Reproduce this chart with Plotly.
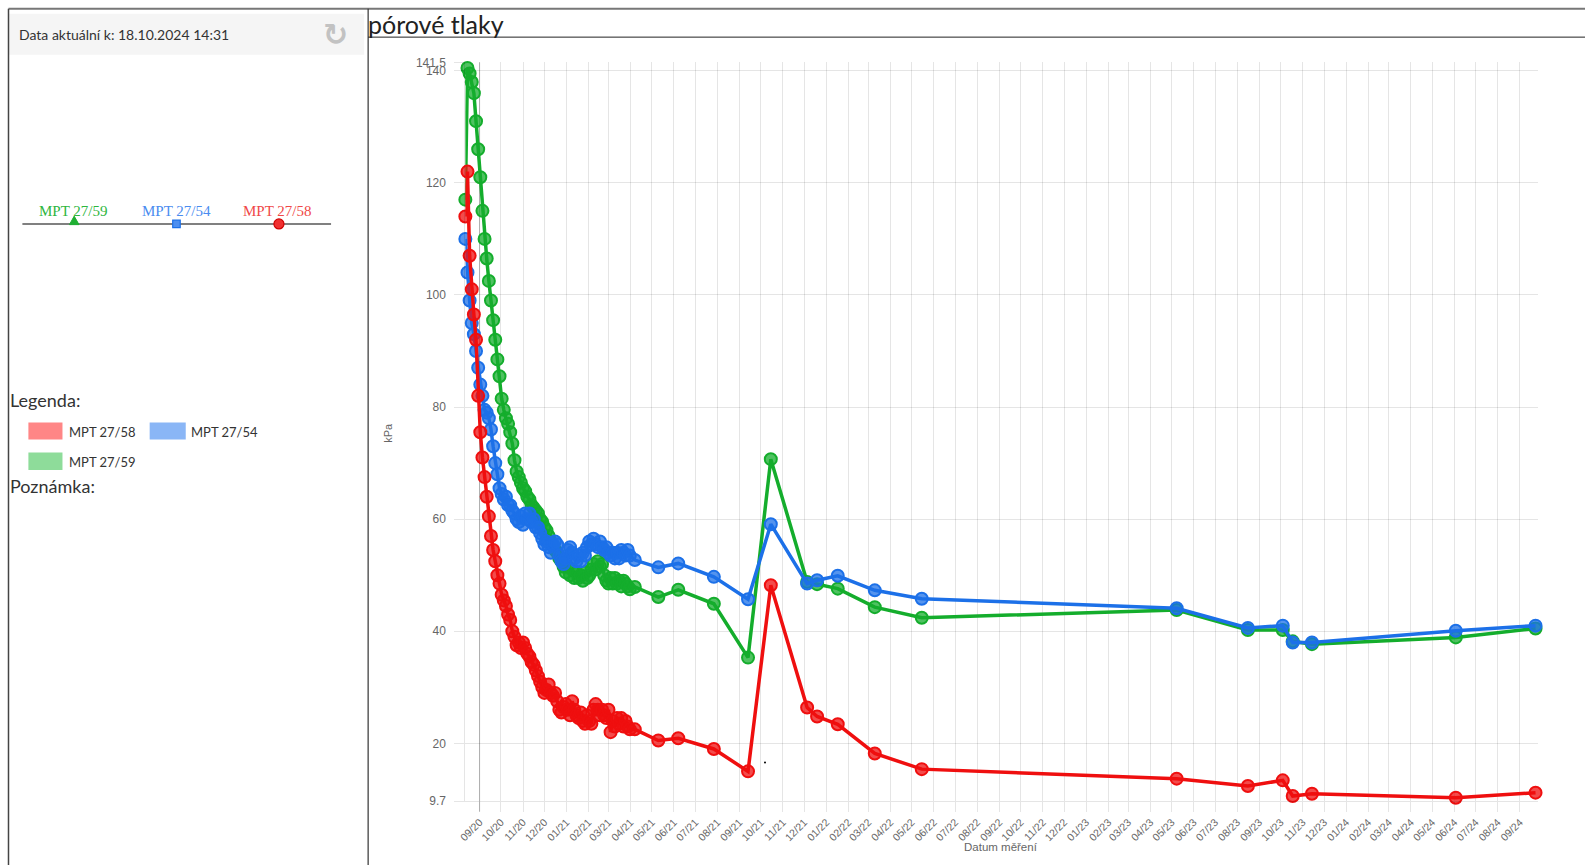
import pandas as pd
import plotly.graph_objects as go

# Screen calibration: the page body keeps an 8px margin and the captured
# screen is slightly scaled, so every layout position below is given in
# screen pixels and converted to figure pixels by to_fig_x / to_fig_y.
BODY_MARGIN = 8
SCALE_X, SHIFT_X = 0.9928, 2.7
SCALE_Y, SHIFT_Y = 0.984, -0.5
W, H = 1586, 872

# ---- data -------------------------------------------------------------
# intensive monitoring period: readings every 3 days from 12.08.2020
dense_start = "2020-08-12"
dense_step = "3D"

mpt59_dense = [117, 140.5, 139.5, 138, 136, 131, 126, 121, 115, 110,
               106.5, 102.5, 99, 95.5, 92, 88.5, 85.5, 81.5, 79.5, 78,
               77, 75.5, 73.5, 70.5, 68.5, 67.5, 66.5, 65.5, 65, 64,
               63.5, 62.5, 62, 61.5, 61, 60, 59.5, 58.5, 58, 57,
               56, 55.5, 54.5, 54, 53, 52.5, 51.5, 50.5, 51.5, 50,
               51, 49.5, 50.5, 49.5, 50, 49, 50.5, 49.5, 50, 51,
               52, 51, 52.5, 51.5, 52, 50, 49, 48.5, 49.5, 48.5,
               49.5, 48.5, 49, 48, 49, 48.5, 48, 47.5]

mpt54_dense = [110, 104, 99, 95, 93, 90, 87, 84, 82, 79.5,
               79, 78, 76, 73, 70, 68, 65.5, 64.5, 63.5, 64,
               62.5, 62.5, 61.5, 61, 60, 59.5, 60.5, 59, 61, 60,
               61, 59.5, 60, 58.5, 58.5, 57.5, 56.5, 55.5, 56, 55,
               54, 55.5, 56, 55.5, 53.5, 52.5, 52, 53, 54.5, 55,
               54, 53, 52.5, 53.5, 52.5, 54, 53.5, 55, 56, 55.5,
               56.5, 55.5, 55, 56, 55, 54.5, 55, 54, 53.5, 54,
               53, 54, 53, 54.5, 54, 53.5, 54.5, 53.5]

mpt58_dense = [114, 122, 107, 101, 96.5, 92, 82, 75.5, 71, 67.5,
               64, 60.5, 57, 54.5, 52.5, 50, 48.5, 46.5, 45.5, 44.5,
               43, 42, 40, 39, 37.5, 38, 37, 38, 37, 36,
               35.5, 34.5, 34, 33, 32, 31, 30, 29, 29.5, 30.5,
               29, 28.5, 29, 27.5, 26, 25.5, 26.5, 27, 26, 25,
               27.5, 26, 25, 24.5, 25.5, 24, 23.5, 25, 24, 23.5,
               26, 27, 26, 25, 26, 25, 24.5, 26, 22, 24,
               23, 24.5, 23.5, 24.5, 23, 24, 23, 22.5]

# later manual readings
sparse_dates = ["2021-04-07", "2021-05-10", "2021-06-07", "2021-07-27",
                "2021-09-13", "2021-10-15", "2021-12-05", "2021-12-19",
                "2022-01-17", "2022-03-10", "2022-05-15", "2023-05-08",
                "2023-08-16", "2023-10-04", "2023-10-18", "2023-11-14",
                "2024-06-03", "2024-09-23"]

mpt59_sparse = [47.9, 46.1, 47.4, 44.9, 35.3, 70.7, 48.8, 48.4, 47.6,
                44.3, 42.4, 43.8, 40.2, 40.2, 38.2, 37.7, 38.9, 40.5]
mpt54_sparse = [52.7, 51.4, 52.1, 49.7, 45.7, 59.1, 48.5, 49.1, 49.9,
                47.3, 45.8, 44.1, 40.6, 41.0, 38.0, 38.0, 40.1, 41.0]
mpt58_sparse = [22.5, 20.5, 20.9, 19.0, 15.0, 48.2, 26.4, 24.8, 23.4,
                18.2, 15.4, 13.7, 12.4, 13.4, 10.6, 11.0, 10.3, 11.2]

series_names = ["MPT 27/59", "MPT 27/54", "MPT 27/58"]
line_colors = ["#14ad2c", "#1c70e8", "#ef0f0f"]
fill_colors = ["rgba(20,173,44,0.75)", "rgba(28,112,232,0.75)", "rgba(239,15,15,0.75)"]

y_tick_vals = [9.7, 20, 40, 60, 80, 100, 120, 140, 141.5]
y_tick_text = ["9.7", "20", "40", "60", "80", "100", "120", "140", "141.5"]
x_range = ["2020-08-12", "2024-09-26"]

dense_dates = pd.date_range(dense_start, periods=len(mpt59_dense), freq=dense_step)
all_dates = list(dense_dates.strftime("%Y-%m-%d")) + sparse_dates
values = [mpt59_dense + mpt59_sparse,
          mpt54_dense + mpt54_sparse,
          mpt58_dense + mpt58_sparse]


def to_fig_x(sx):
    return (sx - SHIFT_X) / SCALE_X - BODY_MARGIN


def to_fig_y(sy):
    return (sy - SHIFT_Y) / SCALE_Y - BODY_MARGIN


def px(sx):
    """screen x pixel -> paper fraction"""
    return max(to_fig_x(sx), 0.5) / W


def py(sy):
    """screen y pixel -> paper fraction"""
    return 1 - to_fig_y(sy) / H


# ---- chart ------------------------------------------------------------
fig = go.Figure()
for name, vals, lc, fc in zip(series_names, values, line_colors, fill_colors):
    fig.add_trace(go.Scatter(
        x=all_dates, y=vals, name=name, mode="lines+markers",
        line=dict(color=lc, width=3.5),
        marker=dict(size=12, color=fc, line=dict(color=lc, width=2)),
        cliponaxis=False,
    ))

grid = "rgba(0,0,0,0.1)"
y_tick_font = dict(family="Liberation Sans, Arial, sans-serif", size=12, color="#666")
x_tick_font = dict(family="Liberation Sans, Arial, sans-serif", size=10.5, color="#666")
ui_font = "Lato, Open Sans, sans-serif"

shapes = [
    # page frame
    dict(type="line", xref="paper", yref="paper", x0=px(5), x1=1, y0=py(9), y1=py(9),
         line=dict(color="#777", width=2)),
    dict(type="line", xref="paper", yref="paper", x0=px(5), x1=px(5), y0=py(9), y1=0,
         line=dict(color="#444", width=1.5)),
    dict(type="line", xref="paper", yref="paper", x0=px(370), x1=px(370), y0=py(9), y1=0,
         line=dict(color="#333", width=1.2)),
    dict(type="line", xref="paper", yref="paper", x0=px(370), x1=1, y0=py(37.5), y1=py(37.5),
         line=dict(color="#222", width=1)),
    # info box
    dict(type="rect", xref="paper", yref="paper", x0=px(10), x1=px(366), y0=py(14), y1=py(55),
         fillcolor="#f5f5f5", line=dict(width=0), layer="below"),
    # sensor schematic
    dict(type="line", xref="paper", yref="paper", x0=px(25), x1=px(333), y0=py(224.3), y1=py(224.3),
         line=dict(color="#808080", width=2)),
    dict(type="path", xref="paper", yref="paper",
         path=f"M {px(72)} {py(225)} L {px(81.5)} {py(225)} L {px(76.7)} {py(216.5)} Z",
         fillcolor="#1fb032", line=dict(color="#1fb032", width=1)),
    dict(type="rect", xref="paper", yref="paper", x0=px(175), x1=px(182.5), y0=py(220.5), y1=py(228),
         fillcolor="#4d8ff0", line=dict(color="#1c70e8", width=1.2)),
    dict(type="circle", xref="paper", yref="paper", x0=px(276), x1=px(286), y0=py(219.3), y1=py(229.3),
         fillcolor="#f03030", line=dict(color="#d00000", width=1.2)),
    # legend swatches
    dict(type="rect", xref="paper", yref="paper", x0=px(31), x1=px(65), y0=py(423), y1=py(440),
         fillcolor="#ff8686", line=dict(width=0)),
    dict(type="rect", xref="paper", yref="paper", x0=px(152), x1=px(188), y0=py(423), y1=py(440),
         fillcolor="#8ab6f6", line=dict(width=0)),
    dict(type="rect", xref="paper", yref="paper", x0=px(31), x1=px(65), y0=py(453), y1=py(470.5),
         fillcolor="#8edc9a", line=dict(width=0)),
    # first x tick line drawn darker
    dict(type="line", xref="x", yref="paper", x0="2020-09-01", x1="2020-09-01",
         y0=py(812), y1=py(62.7), line=dict(color="rgba(0,0,0,0.25)", width=1), layer="below"),
    # small dot
    dict(type="circle", xref="paper", yref="paper", x0=px(765), x1=px(767), y0=py(762), y1=py(764),
         fillcolor="#000", line=dict(width=0)),
]

annotations = [
    dict(text="Data aktuální k: 18.10.2024 14:31", x=px(20), y=py(35), xanchor="left", yanchor="middle",
         font=dict(family=ui_font, size=14, color="#333")),
    dict(text="<b>↻</b>", x=px(337), y=py(35), xanchor="center", yanchor="middle",
         font=dict(family="DejaVu Sans", size=30, color="#c2c2c2")),
    dict(text="pórové tlaky", x=px(368), y=py(24), xanchor="left", yanchor="middle",
         font=dict(family=ui_font, size=25, color="#222")),
    dict(text="MPT 27/59", x=px(76), y=py(211), xanchor="center", yanchor="middle",
         font=dict(family="Liberation Serif, serif", size=15, color="#2eb63e")),
    dict(text="MPT 27/54", x=px(178.5), y=py(211), xanchor="center", yanchor="middle",
         font=dict(family="Liberation Serif, serif", size=15, color="#4a8cf0")),
    dict(text="MPT 27/58", x=px(280), y=py(211), xanchor="center", yanchor="middle",
         font=dict(family="Liberation Serif, serif", size=15, color="#f04848")),
    dict(text="Legenda:", x=px(10), y=py(400), xanchor="left", yanchor="middle",
         font=dict(family=ui_font, size=18, color="#333")),
    dict(text="MPT 27/58", x=px(70), y=py(432), xanchor="left", yanchor="middle",
         font=dict(family=ui_font, size=13, color="#333")),
    dict(text="MPT 27/54", x=px(191), y=py(432), xanchor="left", yanchor="middle",
         font=dict(family=ui_font, size=13, color="#333")),
    dict(text="MPT 27/59", x=px(70), y=py(462), xanchor="left", yanchor="middle",
         font=dict(family=ui_font, size=13, color="#333")),
    dict(text="Poznámka:", x=px(10), y=py(486.5), xanchor="left", yanchor="middle",
         font=dict(family=ui_font, size=18, color="#333")),
    dict(text="kPa", x=px(389), y=py(433), xanchor="center", yanchor="middle", textangle=-90,
         font=dict(family="Liberation Sans, Arial", size=11, color="#666")),
    dict(text="Datum měření", x=px(1001), y=py(847.5), xanchor="center", yanchor="middle",
         font=dict(family="Liberation Sans, Arial", size=11.5, color="#666")),
]
for a in annotations:
    a.update(xref="paper", yref="paper", showarrow=False)

fig.update_layout(
    width=W, height=H, autosize=False,
    margin=dict(l=0, r=0, t=0, b=0, pad=0),
    paper_bgcolor="white", plot_bgcolor="white",
    showlegend=False,
    shapes=shapes, annotations=annotations,
    xaxis=dict(
        type="date", domain=[px(467), px(1537)], range=x_range,
        tick0="2020-09-01", dtick="M1", tickformat="%m/%y", tickangle=-45,
        showgrid=True, gridcolor=grid, gridwidth=1,
        ticks="outside", ticklen=10, tickcolor=grid, tickwidth=1,
        showline=True, linecolor=grid, linewidth=1,
        zeroline=False, tickfont=x_tick_font, fixedrange=True,
    ),
    yaxis=dict(
        domain=[py(801.5), py(62.7)], range=[9.7, 141.5],
        tickmode="array", tickvals=y_tick_vals, ticktext=y_tick_text,
        showgrid=True, gridcolor=grid, gridwidth=1,
        ticks="outside", ticklen=10, tickcolor=grid, tickwidth=1,
        showline=True, linecolor=grid, linewidth=1,
        zeroline=False, tickfont=y_tick_font, ticklabelstandoff=6, fixedrange=True,
    ),
)

fig.write_html("out.html")
